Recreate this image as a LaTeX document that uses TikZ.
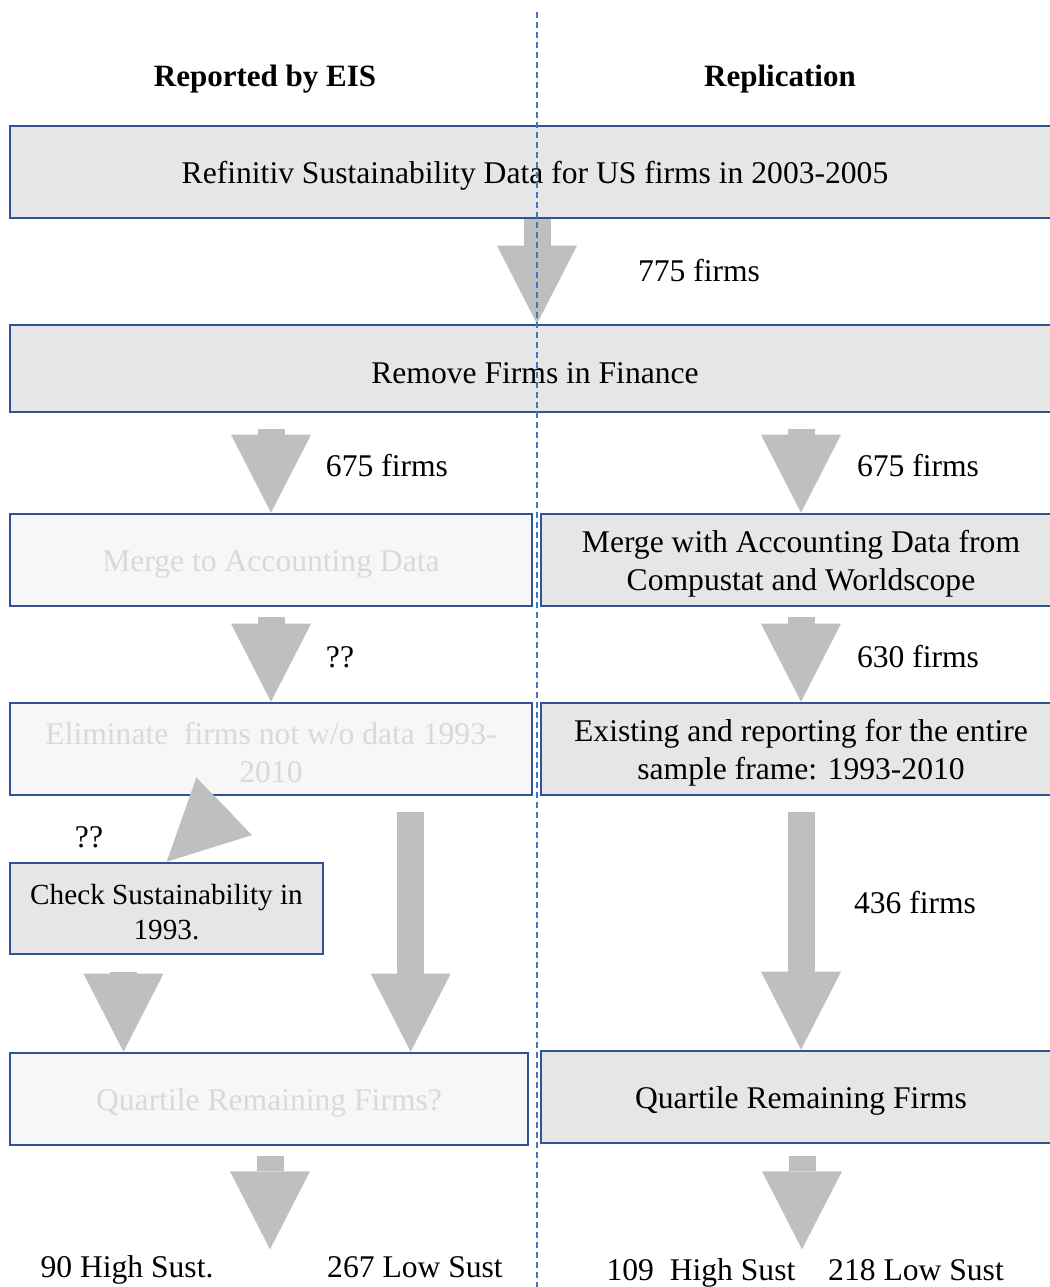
\documentclass[tikz,border=0pt]{standalone}
\usepackage{fontspec}
\setmainfont{Liberation Serif}
\usetikzlibrary{arrows.meta,calc}

\definecolor{boxblue}{HTML}{2F5496}
\definecolor{boxgray}{HTML}{E7E6E6}
\definecolor{fadefill}{HTML}{F7F7F7}
\definecolor{fadetext}{HTML}{D9D9D9}
\definecolor{arrowgray}{HTML}{BFBFBF}
\definecolor{splitblue}{HTML}{4472C4}

\newcommand{\boxstrut}{\rule{0pt}{15pt}}

\begin{document}
\begin{tikzpicture}[x=0.5pt,y=-0.5pt,
  every node/.style={font=\fontsize{15.8}{19}\selectfont},
  stepbox/.style={draw=boxblue,line width=1.3pt,fill=boxgray,inner sep=0pt,align=center,minimum height=46pt},
  fadebox/.style={stepbox,fill=fadefill,text=fadetext},
  bigarrow/.style={draw=arrowgray,line width=13.5pt,-{Triangle[length=#1,width=40pt,line width=0pt]}},
  bigarrow/.default=39pt]
\useasboundingbox (0,0) rectangle (1050,1287);
\clip (0,0) rectangle (1050,1287);

% column heads
\node[font=\bfseries\fontsize{15.5}{19}\selectfont] (headl) at (265,79) {Reported by EIS};
\node[font=\bfseries\fontsize{15.5}{19}\selectfont] (headr) at (780,79) {Replication};

% boxes
\node[stepbox,minimum width=525pt] (src) at (535,172) {\boxstrut Refinitiv Sustainability Data for US firms in 2003-2005};
\node[stepbox,minimum width=525pt,minimum height=43.5pt] (fin) at (535,368.5) {\boxstrut Remove Firms in Finance};
\node[fadebox,minimum width=261pt] (merge) at (271,560) {\boxstrut Merge to Accounting Data};
\node[stepbox,minimum width=260pt] (rmerge) at (801,560) {\boxstrut Merge with Accounting Data from\\Compustat and Worldscope};
\node[fadebox,minimum width=261pt] (elim) at (271,749) {\boxstrut Eliminate\ \ firms not w/o data 1993-\\2010};
\node[stepbox,minimum width=260pt] (rexist) at (801,749) {\boxstrut Existing and reporting for the entire\\sample frame: 1993-2010};
\node[stepbox,minimum width=156.5pt,minimum height=45.5pt,font=\fontsize{14.6}{17.5}\selectfont] (chk) at (166.5,908.5) {\rule{0pt}{14pt}Check Sustainability in\\1993.};
\node[fadebox,minimum width=259pt] (quart) at (269,1099) {\boxstrut Quartile Remaining Firms?};
\node[stepbox,minimum width=260pt] (rquart) at (801,1097) {\boxstrut Quartile Remaining Firms};

% arrows
\draw[bigarrow] ([xshift=1pt]src.south) -- ([xshift=1pt]fin.north);
\draw[bigarrow] ($(fin.south -| merge.north)+(0,16)$) -- (merge.north);
\draw[bigarrow] ($(fin.south -| rmerge.north)+(0,16)$) -- (rmerge.north);
\draw[bigarrow] ($(merge.south)+(0,10)$) -- (elim.north);
\draw[bigarrow] ($(rmerge.south)+(0,10)$) -- (rexist.north);
\coordinate (chkin) at ($(chk.north west)+(158,0)$);
\draw[bigarrow=39.9pt] ($(chkin)+(57.6,-55.5)$) -- (chkin);
\coordinate (chkout) at ($(chk.south)+(-43,17)$);
\draw[bigarrow] (chkout) -- (chkout |- quart.north);
\coordinate (elimout) at ($(elim.south west)+(402,16)$);
\draw[bigarrow] (elimout) -- (elimout |- quart.north);
\draw[bigarrow] ($(rexist.south)+(0,16)$) -- (rquart.north);
\coordinate (endl) at ($(quart.south)+(1,103)$);
\draw[bigarrow] ($(quart.south)+(1,10)$) -- (endl);
\coordinate (endr) at ($(rquart.south)+(1,105)$);
\draw[bigarrow] ($(rquart.south)+(1,12)$) -- (endr);

% counts
\node (n775) at (699,271) {775 firms};
\node (n675l) at (387,466) {675 firms};
\node (n675r) at (918,466) {675 firms};
\node (qqa) at (340,657) {??};
\node (n630) at (918,657) {630 firms};
\node (qqb) at (89,837) {??};
\node (n436) at (915,903) {436 firms};
\node (highl) at (127,1270) {90 High Sust.};
\node (lowl) at (415,1267) {267 Low Sust};
\node (highr) at (701,1273) {109\ \ High Sust};
\node (lowr) at (916,1270) {218 Low Sust};

% split line
\draw[splitblue,line width=0.6pt,dash pattern=on 3pt off 2pt] (537,12) -- (537,1287);
\end{tikzpicture}
\end{document}
